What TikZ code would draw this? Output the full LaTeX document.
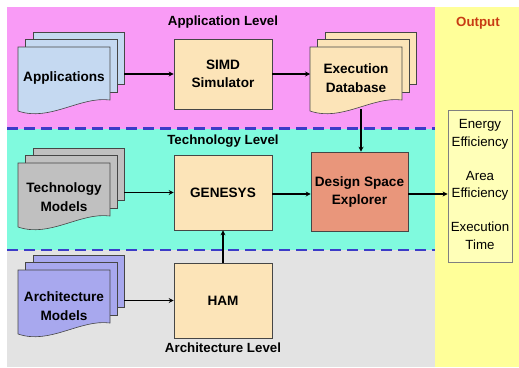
\documentclass[tikz,border=0pt]{standalone}
\usepackage{fontspec}
\setmainfont{Liberation Sans}
\usetikzlibrary{arrows.meta}
\definecolor{pinkbg}{RGB}{249,155,246}
\definecolor{cyanbg}{RGB}{128,250,222}
\definecolor{graybg}{RGB}{227,227,227}
\definecolor{yellowbg}{RGB}{255,255,153}
\definecolor{boxfill}{RGB}{252,228,184}
\definecolor{dsefill}{RGB}{233,150,123}
\definecolor{appfill}{RGB}{197,217,241}
\definecolor{techfill}{RGB}{192,192,192}
\definecolor{archfill}{RGB}{168,168,238}
\definecolor{dashblue}{RGB}{60,60,200}
\definecolor{outred}{RGB}{200,60,20}
\definecolor{outline}{RGB}{70,70,70}
\newcommand{\multidoc}[3]{%
  \filldraw[docline, fill=#3] (#1+15,#2-15) rectangle (#1+106,#2+37);
  \filldraw[docline, fill=#3] (#1+7,#2-8) rectangle (#1+99,#2+45);
  \filldraw[docline, fill=#3] (#1,#2) -- (#1+92,#2) -- (#1+92,#2+53)
     .. controls (#1+62,#2+49) and (#1+32,#2+75) .. (#1,#2+64) -- cycle;
}
\begin{document}
\begin{tikzpicture}[x=1pt,y=-1pt,
  docline/.style={draw=outline, line width=0.6pt},
  boxstyle/.style={draw=outline, line width=0.6pt, fill=boxfill, align=center,
    font=\fontsize{13.6}{18}\selectfont\bfseries, inner sep=0pt},
  doctext/.style={align=center, font=\fontsize{13.6}{19}\selectfont\bfseries, inner sep=0pt},
  leveltext/.style={font=\fontsize{13.3}{16}\selectfont\bfseries, inner sep=0pt},
  outtext/.style={font=\fontsize{13.3}{18}\selectfont, inner sep=0pt},
  arr/.style={-{Stealth[length=5pt,width=5pt]}, line width=1.5pt, black},
  levelline/.style={draw=dashblue, line width=2.2pt, dash pattern=on 11pt off 6pt}
]
\useasboundingbox (0,0) rectangle (519,367);
% backgrounds
\fill[white] (0,0) rectangle (519,367);
\fill[pinkbg] (7,7) rectangle (435,128.5);
\fill[cyanbg] (7,128.5) rectangle (435,250);
\fill[graybg] (7,250) rectangle (435,367);
\fill[yellowbg] (435,7) rectangle (519,367);
\draw[levelline] (7,128.5) -- (435,128.5);
\draw[levelline] (7,250) -- (435,250);

% level labels
\node[leveltext] (lapp) at (223,22) {Application Level};
\node[leveltext] (ltech) at (223,141) {Technology Level};
\node[leveltext] (larch) at (223,348) {Architecture Level};
\node[leveltext, text=outred] (lout) at (478,23) {Output};

% documents
\multidoc{18}{47}{appfill}
\node[doctext] (apps) at (64,78) {Applications};
\coordinate (appsR) at (124,74);

\multidoc{310}{47}{boxfill}
\node[doctext] (exec) at (356,78) {Execution\\Database};
\coordinate (execL) at (310,74);
\coordinate (execB) at (361,109);

\multidoc{18}{163}{techfill}
\node[doctext] (tech) at (64,197.5) {Technology\\Models};
\coordinate (techR) at (124,192.5);

\multidoc{18}{270}{archfill}
\node[doctext] (arch) at (64,306) {Architecture\\Models};
\coordinate (archR) at (124,300.5);

% boxes
\node[boxstyle, minimum width=98pt, minimum height=70pt] (simd) at (223,74) {SIMD\\Simulator};
\node[boxstyle, minimum width=98pt, minimum height=75pt] (genesys) at (223,192.5) {GENESYS};
\node[boxstyle, minimum width=98pt, minimum height=75pt] (ham) at (223,300.5) {HAM};
\node[boxstyle, fill=dsefill, minimum width=97pt, minimum height=79pt] (dse) at (359.5,191.5) {Design Space\\Explorer};

% output box
\node[draw=gray, line width=0.8pt, fill=yellowbg!70!white, minimum width=64pt, minimum height=152pt, inner sep=0pt] (outbox) at (480,186) {};
\node[outtext] (o1) at (480,125) {Energy};
\node[outtext] (o2) at (480,143) {Efficiency};
\node[outtext] (o3) at (480,176) {Area};
\node[outtext] (o4) at (480,194) {Efficiency};
\node[outtext] (o5) at (480,227) {Execution};
\node[outtext] (o6) at (480,245) {Time};

% connectors
\draw[arr] (appsR) -- (simd.west);
\draw[arr] (simd.east) -- (execL);
\draw[arr] (execB) -- (execB |- dse.north);
\draw[arr] (techR) -- (genesys.west);
\draw[arr] (genesys.east |- 0,194) -- (dse.west |- 0,194);
\draw[arr] (dse.east |- 0,194) -- (outbox.west |- 0,194);
\draw[arr] (archR) -- (ham.west);
\draw[arr] (ham.north) -- (genesys.south);
\end{tikzpicture}
\end{document}
